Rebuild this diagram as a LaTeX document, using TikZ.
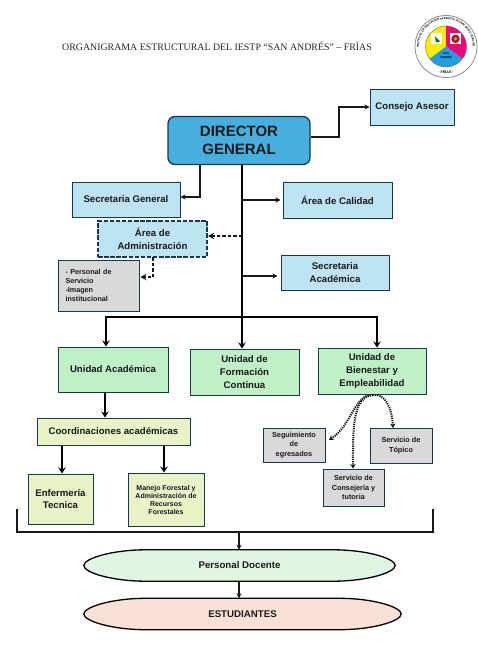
\documentclass[tikz,border=0pt]{standalone}
\usepackage{fontspec}
\setmainfont{Liberation Sans}
\newfontfamily\titlefont{Liberation Serif}
\usetikzlibrary{arrows.meta,decorations.text,calc,backgrounds}
\definecolor{bluebox}{HTML}{BEE3F3}
\definecolor{bluedir}{HTML}{46AFE0}
\definecolor{edgeblue}{HTML}{163A4C}
\definecolor{greenbox}{HTML}{BFF0C6}
\definecolor{limebox}{HTML}{E8F4C8}
\definecolor{greybox}{HTML}{D9D9D9}
\definecolor{mint}{HTML}{E0F6E4}
\definecolor{peach}{HTML}{FBE1D5}
\tikzset{
  x=1pt,y=-1pt,
  base/.style={draw=edgeblue,line width=1pt,align=center,inner sep=1pt,font=\bfseries\fontsize{9.6}{12.6}\selectfont,text=black!90},
  bluenode/.style={base,fill=bluebox},
  greennode/.style={base,fill=greenbox},
  limenode/.style={base,fill=limebox},
  greynode/.style={base,fill=greybox,font=\bfseries\fontsize{7.3}{9.3}\selectfont},
  ovaltext/.style={inner sep=0pt,font=\bfseries\fontsize{9.7}{11}\selectfont,text=black!90},
  ovalline/.style={draw=black,line width=1.3pt},
  thin arrow/.style={draw=black!90,line width=1.3pt,-{Stealth[length=5pt,width=5pt]}},
  thick arrow/.style={draw=black,line width=2.9pt,-{Stealth[length=6pt,width=7.5pt]}},
  dash arrow/.style={draw=black!90,line width=2pt,dash pattern=on 3.5pt off 2pt,-{Stealth[length=6pt,width=6.5pt]}},
  dot arrow/.style={draw=black!90,line width=2pt,dash pattern=on 1.2pt off 1pt,-{Stealth[length=4.5pt,width=5.5pt]}},
}
\begin{document}
\begin{tikzpicture}
\useasboundingbox (0,0) rectangle (478,650);
% title
\node[font=\titlefont\fontsize{9.87}{12}\selectfont,text=black!85,inner sep=0pt] (title) at (217,46.5) {ORGANIGRAMA ESTRUCTURAL DEL IESTP “SAN ANDRÉS” – FRÍAS};
% logo
\begin{scope}[shift={(446,46.5)},y=1pt]
  \fill[white] (0,0) circle (31);
  \draw[black!45,line width=.8pt] (0,0) circle (31);
  \fill[yellow!95!orange] (0,0) -- (0,20.5) arc (90:217:20.5) -- cycle;
  \fill[magenta!85!red] (0,0) -- (0,20.5) arc (90:-37:20.5) -- cycle;
  \fill[cyan!80!blue!90] (0,0) -- (-16.4,-12.3) arc (217:323:20.5) -- cycle;
  \draw[black!60,line width=.4pt] (0,0) circle (20.5);
  \fill[white] (-15,2.5) rectangle (-4,13);
  \fill[green!45!black] (-10,4) -- (-6,5) -- (-11,10) -- cycle;
  \fill[white] (4,2.5) rectangle (15,13);
  \fill[red!80!black] (9.5,7.7) circle (4.2);
  \fill[green!70!black!60] (9.5,7.7) circle (1.8);
  \node[font=\bfseries\fontsize{2.8}{4}\selectfont,align=center,inner sep=0pt] (logocentre) at (0,-9.5) {SAN\\ANDRÉS};
  \path[postaction={decorate,decoration={text along path,text align=center,
    text={|\bfseries\fontsize{2.75}{3}\selectfont|INSTITUTO DE EDUCACIÓN SUPERIOR TECNOLÓGICO PÚBLICO}}}]
    (-24,-12.5) arc (207.5:-27.5:27);
  \node[font=\bfseries\fontsize{3.6}{4}\selectfont,inner sep=0pt] (logofrias) at (0,-25.5) {· FRÍAS ·};
\end{scope}
% nodes
\node[base,fill=bluedir,line width=1.3pt,rounded corners=7pt,minimum width=142,minimum height=48,font=\bfseries\fontsize{15}{18}\selectfont] (dg) at (239,140.5) {DIRECTOR\\GENERAL};
\node[bluenode,minimum width=84,minimum height=36] (ca) at (412,107.5) {Consejo Asesor};
\node[bluenode,minimum width=108,minimum height=35] (sg) at (126,199.5) {Secretaria General};
\node[bluenode,minimum width=109,minimum height=36] (ac) at (337.5,200) {Área de Calidad};
\node[base,fill=bluebox,dash pattern=on 4.5pt off 1.6pt,line width=2.2pt,minimum width=109,minimum height=36] (aa) at (152.5,239) {Área de\\Administración};
\node[greynode,align=left,minimum width=81,minimum height=51,text width=66,inner sep=0pt,font=\bfseries\fontsize{7.2}{8.9}\selectfont] (ps) at (98.5,285.5) {- Personal de\\Servicio\\-Imagen\\institucional};
\node[bluenode,minimum width=108,minimum height=35,text width=100] (sa) at (335,272.5) {Secretaria\\Académica};
\node[greennode,minimum width=110,minimum height=45] (ua) at (113,369.5) {Unidad Académica};
\node[greennode,minimum width=109,minimum height=46] (uf) at (244.5,372) {Unidad de\\Formación\\Continua};
\node[greennode,minimum width=108,minimum height=46] (ub) at (372,371) {Unidad de\\Bienestar y\\Empleabilidad};
\node[greynode,minimum width=62,minimum height=34] (se) at (294,445) {Seguimiento\\de\\egresados};
\node[greynode,minimum width=62,minimum height=35] (st) at (401,445.5) {Servicio de\\Tópico};
\node[greynode,minimum width=61,minimum height=37] (sc) at (353.5,487.5) {Servicio de\\Consejería y\\tutoria};
\node[limenode,minimum width=153,minimum height=27] (co) at (113.5,431.5) {Coordinaciones académicas};
\node[limenode,minimum width=65,minimum height=50] (en) at (60.5,499) {Enfermería\\Tecnica};
\node[limenode,minimum width=76,minimum height=53,font=\bfseries\fontsize{7}{8}\selectfont] (mf) at (166,499.5) {Manejo Forestal y\\Administración de\\Recursos\\Forestales};
\node[ovaltext,minimum width=311,minimum height=31] (pd) at (239.5,565.5) {Personal Docente};
\node[ovaltext,minimum width=317,minimum height=31] (es) at (242.5,614) {ESTUDIANTES};
\begin{scope}[on background layer]
  \draw[ovalline,fill=mint] (pd.west) .. controls ([yshift=7pt]pd.west) and ([xshift=28pt]pd.north west) .. ([xshift=62pt]pd.north west)
    -- ([xshift=-62pt]pd.north east) .. controls ([xshift=-28pt]pd.north east) and ([yshift=7pt]pd.east) .. (pd.east)
    .. controls ([yshift=-7pt]pd.east) and ([xshift=-28pt]pd.south east) .. ([xshift=-62pt]pd.south east)
    -- ([xshift=62pt]pd.south west) .. controls ([xshift=28pt]pd.south west) and ([yshift=-7pt]pd.west) .. cycle;
  \draw[ovalline,fill=peach] (es.west) .. controls ([yshift=7pt]es.west) and ([xshift=28pt]es.north west) .. ([xshift=62pt]es.north west)
    -- ([xshift=-62pt]es.north east) .. controls ([xshift=-28pt]es.north east) and ([yshift=7pt]es.east) .. (es.east)
    .. controls ([yshift=-7pt]es.east) and ([xshift=-28pt]es.south east) .. ([xshift=-62pt]es.south east)
    -- ([xshift=62pt]es.south west) .. controls ([xshift=28pt]es.south west) and ([yshift=-7pt]es.west) .. cycle;
\end{scope}
% junctions
\coordinate (jsg) at (200,164);
\coordinate (jsgb) at (200,197);
\coordinate (jt) at (242,164);
\coordinate (jbl) at (106,317);
\coordinate (jbr) at (377,317);
\coordinate (jca1) at (339,137);
\coordinate (jca2) at (339,107);
\coordinate (jac) at (243,200);
\coordinate (jaa) at (242,236);
\coordinate (jsa) at (243,276);
\coordinate (jps) at (153,257);
\coordinate (jps2) at (153,277);
\coordinate (brl) at (17,509);
\coordinate (brlb) at (17,532);
\coordinate (brr) at (433,509);
\coordinate (brrb) at (433,532);
\coordinate (brm) at (239,532);
\coordinate (jdot) at (373,395);
% connectors
\draw[thin arrow] (dg.east |- jca1) -- (jca1) -- (jca2) -- (ca.west |- jca2);
\draw[thin arrow] (jsg) -- (jsgb) -- (sg.east |- jsgb);
\draw[thick arrow] (jt) -- (jt |- uf.north);
\draw[thin arrow] (jac) -- ([xshift=-2pt]ac.west |- jac);
\draw[thin arrow] (jsa) -- ([xshift=-3pt]sa.west |- jsa);
\draw[dash arrow] (jaa) -- (aa.east |- jaa);
\draw[dash arrow] (jps) -- (jps2) -- ([xshift=1pt]ps.east |- jps2);
\draw[draw=black,line width=2.6pt,line cap=rect] (jbl) -- (jbr);
\draw[thick arrow] (jbl) -- (jbl |- ua.north);
\draw[thick arrow] (jbr) -- (jbr |- ub.north);
\draw[thick arrow] (ua.south -| 105,0) -- (co.north -| 105,0);
\draw[thick arrow] (co.south -| 62,0) -- (en.north -| 62,0);
\draw[thick arrow] (co.south -| 164,0) -- (mf.north -| 164,0);
\draw[dot arrow] (jdot) .. controls (355,393) and (352,425) .. (329,440);
\draw[dot arrow] (jdot) .. controls (352,397) and (353,430) .. (sc.north -| 353,0);
\draw[dot arrow] (jdot) .. controls (385,393) and (392,408) .. (393,428);
\draw[black!90,line width=1.4pt] (brl) -- (brlb) -- (brrb) -- (brr);
\draw[thin arrow] (brm) -- (pd.north -| brm);
\draw[thin arrow] (pd.south -| brm) -- (es.north -| brm);
\end{tikzpicture}
\end{document}
